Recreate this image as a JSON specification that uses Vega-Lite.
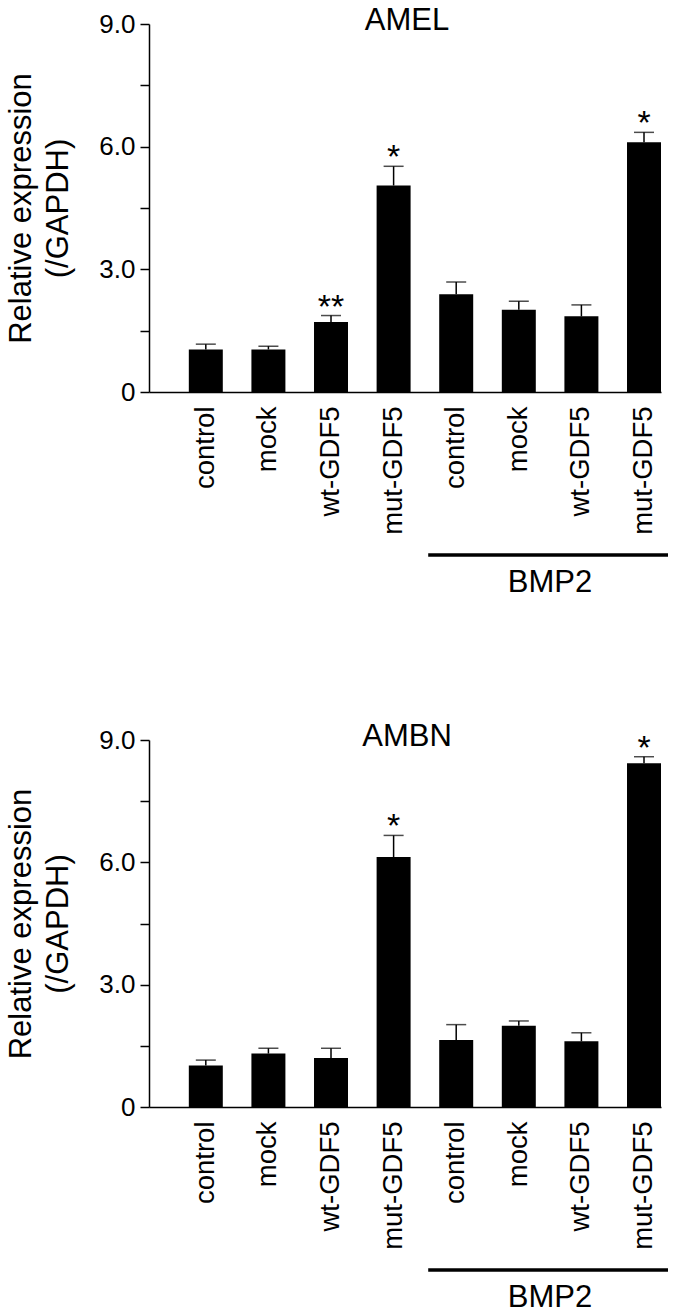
{
  "$schema": "https://vega.github.io/schema/vega-lite/v6.json",
  "padding": {"left": 5, "top": 5, "right": 5, "bottom": 5},
  "background": "white",
  "config": {
    "font": "Liberation Sans",
    "view": {"stroke": null},
    "title": {"fontSize": 31, "fontWeight": "normal", "font": "Liberation Sans", "color": "black"}
  },
  "datasets": {
    "bars": [
      {"gene": "AMEL", "cond": "control", "value": 1.04, "upper": 1.17, "sig": ""},
      {"gene": "AMEL", "cond": "mock", "value": 1.04, "upper": 1.12, "sig": ""},
      {"gene": "AMEL", "cond": "wt-GDF5", "value": 1.71, "upper": 1.87, "sig": "**"},
      {"gene": "AMEL", "cond": "mut-GDF5", "value": 5.05, "upper": 5.52, "sig": "*"},
      {"gene": "AMEL", "cond": "BMP2 control", "value": 2.39, "upper": 2.69, "sig": ""},
      {"gene": "AMEL", "cond": "BMP2 mock", "value": 2.01, "upper": 2.22, "sig": ""},
      {"gene": "AMEL", "cond": "BMP2 wt-GDF5", "value": 1.85, "upper": 2.13, "sig": ""},
      {"gene": "AMEL", "cond": "BMP2 mut-GDF5", "value": 6.11, "upper": 6.35, "sig": "*"},
      {"gene": "AMBN", "cond": "control", "value": 1.02, "upper": 1.15, "sig": ""},
      {"gene": "AMBN", "cond": "mock", "value": 1.31, "upper": 1.44, "sig": ""},
      {"gene": "AMBN", "cond": "wt-GDF5", "value": 1.2, "upper": 1.44, "sig": ""},
      {"gene": "AMBN", "cond": "mut-GDF5", "value": 6.13, "upper": 6.66, "sig": "*"},
      {"gene": "AMBN", "cond": "BMP2 control", "value": 1.64, "upper": 2.02, "sig": ""},
      {"gene": "AMBN", "cond": "BMP2 mock", "value": 1.99, "upper": 2.11, "sig": ""},
      {"gene": "AMBN", "cond": "BMP2 wt-GDF5", "value": 1.61, "upper": 1.82, "sig": ""},
      {"gene": "AMBN", "cond": "BMP2 mut-GDF5", "value": 8.43, "upper": 8.59, "sig": "*"}
    ],
    "groups": [
      {"gene": "AMEL", "label": "BMP2", "start": "BMP2 control", "end": "BMP2 mut-GDF5", "mid": "BMP2 mock"},
      {"gene": "AMBN", "label": "BMP2", "start": "BMP2 control", "end": "BMP2 mut-GDF5", "mid": "BMP2 mock"}
    ]
  },
  "spacing": 123,
  "vconcat": [
    {
      "spacing": 18,
      "vconcat": [
        {
          "title": {"text": "AMEL", "offset": -50, "baseline": "alphabetic", "anchor": "middle", "dx": 2},
          "width": 512,
          "height": 368,
          "data": {"name": "bars"},
          "transform": [{"filter": "datum.gene == 'AMEL'"}],
          "encoding": {
            "x": {
              "field": "cond", "type": "nominal",
              "scale": {"domain": ["control", "mock", "wt-GDF5", "mut-GDF5", "BMP2 control", "BMP2 mock", "BMP2 wt-GDF5", "BMP2 mut-GDF5"], "paddingInner": 0.457, "paddingOuter": 0.318, "align": 1},
              "axis": {"title": null, "labelAngle": -90, "labelFontSize": 27.5, "labelPadding": 14, "ticks": false, "domainColor": "black", "domainWidth": 1.5, "labelColor": "black", "labelExpr": "replace(datum.label, 'BMP2 ', '')"}
            }
          },
          "layer": [
            {
              "mark": {"type": "bar", "color": "black"},
              "encoding": {
                "y": {
                  "field": "value", "type": "quantitative",
                  "scale": {"domain": [0, 9], "nice": false},
                  "axis": {
                    "values": [0, 1.5, 3, 4.5, 6, 7.5, 9],
                    "labelExpr": "datum.value == 0 ? '0' : (datum.value % 3 == 0 ? format(datum.value, '.1f') : '')",
                    "grid": false, "tickSize": 9, "tickColor": "black", "tickWidth": 1.5,
                    "domainColor": "black", "domainWidth": 1.5,
                    "labelFontSize": 26, "labelPadding": 5, "labelColor": "black",
                    "title": ["Relative expression", "(/GAPDH)"],
                    "titleFontSize": 31, "titleFontWeight": "normal", "titleColor": "black",
                    "titleLineHeight": 37, "titlePadding": 24
                  }
                }
              }
            },
            {
              "mark": {"type": "rule", "color": "black", "strokeWidth": 1.5},
              "encoding": {"y": {"field": "value", "type": "quantitative"}, "y2": {"field": "upper"}}
            },
            {
              "mark": {"type": "tick", "color": "black", "size": 20, "thickness": 1.5},
              "encoding": {"y": {"field": "upper", "type": "quantitative"}}
            },
            {
              "mark": {"type": "text", "fontSize": 34, "baseline": "alphabetic", "dy": 2, "color": "black"},
              "encoding": {"y": {"field": "upper", "type": "quantitative"}, "text": {"field": "sig"}}
            }
          ]
        },
        {
          "width": 512,
          "height": 37,
          "data": {"name": "groups"},
          "transform": [{"filter": "datum.gene == 'AMEL'"}],
          "layer": [
            {
              "mark": {"type": "rule", "color": "black", "strokeWidth": 3.3, "xOffset": -11, "x2Offset": 7},
              "encoding": {
                "x": {"field": "start", "type": "nominal", "bandPosition": 0,
                  "scale": {"domain": ["control", "mock", "wt-GDF5", "mut-GDF5", "BMP2 control", "BMP2 mock", "BMP2 wt-GDF5", "BMP2 mut-GDF5"], "paddingInner": 0.457, "paddingOuter": 0.318, "align": 1},
                  "axis": null},
                "x2": {"field": "end", "bandPosition": 1},
                "y": {"datum": 1, "type": "quantitative", "scale": {"domain": [0, 1]}, "axis": null}
              }
            },
            {
              "mark": {"type": "text", "fontSize": 31, "baseline": "alphabetic", "align": "center", "color": "black"},
              "encoding": {
                "x": {"field": "mid", "type": "nominal", "bandPosition": 1.42},
                "y": {"datum": 0, "type": "quantitative"},
                "text": {"field": "label"}
              }
            }
          ]
        }
      ]
    },
    {
      "spacing": 18,
      "vconcat": [
        {
          "title": {"text": "AMBN", "offset": -50, "baseline": "alphabetic", "anchor": "middle", "dx": 2},
          "width": 512,
          "height": 367,
          "data": {"name": "bars"},
          "transform": [{"filter": "datum.gene == 'AMBN'"}],
          "encoding": {
            "x": {
              "field": "cond", "type": "nominal",
              "scale": {"domain": ["control", "mock", "wt-GDF5", "mut-GDF5", "BMP2 control", "BMP2 mock", "BMP2 wt-GDF5", "BMP2 mut-GDF5"], "paddingInner": 0.457, "paddingOuter": 0.318, "align": 1},
              "axis": {"title": null, "labelAngle": -90, "labelFontSize": 27.5, "labelPadding": 14, "ticks": false, "domainColor": "black", "domainWidth": 1.5, "labelColor": "black", "labelExpr": "replace(datum.label, 'BMP2 ', '')"}
            }
          },
          "layer": [
            {
              "mark": {"type": "bar", "color": "black"},
              "encoding": {
                "y": {
                  "field": "value", "type": "quantitative",
                  "scale": {"domain": [0, 9], "nice": false},
                  "axis": {
                    "values": [0, 1.5, 3, 4.5, 6, 7.5, 9],
                    "labelExpr": "datum.value == 0 ? '0' : (datum.value % 3 == 0 ? format(datum.value, '.1f') : '')",
                    "grid": false, "tickSize": 9, "tickColor": "black", "tickWidth": 1.5,
                    "domainColor": "black", "domainWidth": 1.5,
                    "labelFontSize": 26, "labelPadding": 5, "labelColor": "black",
                    "title": ["Relative expression", "(/GAPDH)"],
                    "titleFontSize": 31, "titleFontWeight": "normal", "titleColor": "black",
                    "titleLineHeight": 37, "titlePadding": 24
                  }
                }
              }
            },
            {
              "mark": {"type": "rule", "color": "black", "strokeWidth": 1.5},
              "encoding": {"y": {"field": "value", "type": "quantitative"}, "y2": {"field": "upper"}}
            },
            {
              "mark": {"type": "tick", "color": "black", "size": 20, "thickness": 1.5},
              "encoding": {"y": {"field": "upper", "type": "quantitative"}}
            },
            {
              "mark": {"type": "text", "fontSize": 34, "baseline": "alphabetic", "dy": 2, "color": "black"},
              "encoding": {"y": {"field": "upper", "type": "quantitative"}, "text": {"field": "sig"}}
            }
          ]
        },
        {
          "width": 512,
          "height": 37,
          "data": {"name": "groups"},
          "transform": [{"filter": "datum.gene == 'AMBN'"}],
          "layer": [
            {
              "mark": {"type": "rule", "color": "black", "strokeWidth": 3.3, "xOffset": -11, "x2Offset": 7},
              "encoding": {
                "x": {"field": "start", "type": "nominal", "bandPosition": 0,
                  "scale": {"domain": ["control", "mock", "wt-GDF5", "mut-GDF5", "BMP2 control", "BMP2 mock", "BMP2 wt-GDF5", "BMP2 mut-GDF5"], "paddingInner": 0.457, "paddingOuter": 0.318, "align": 1},
                  "axis": null},
                "x2": {"field": "end", "bandPosition": 1},
                "y": {"datum": 1, "type": "quantitative", "scale": {"domain": [0, 1]}, "axis": null}
              }
            },
            {
              "mark": {"type": "text", "fontSize": 31, "baseline": "alphabetic", "align": "center", "color": "black"},
              "encoding": {
                "x": {"field": "mid", "type": "nominal", "bandPosition": 1.42},
                "y": {"datum": 0, "type": "quantitative"},
                "text": {"field": "label"}
              }
            }
          ]
        }
      ]
    }
  ]
}
